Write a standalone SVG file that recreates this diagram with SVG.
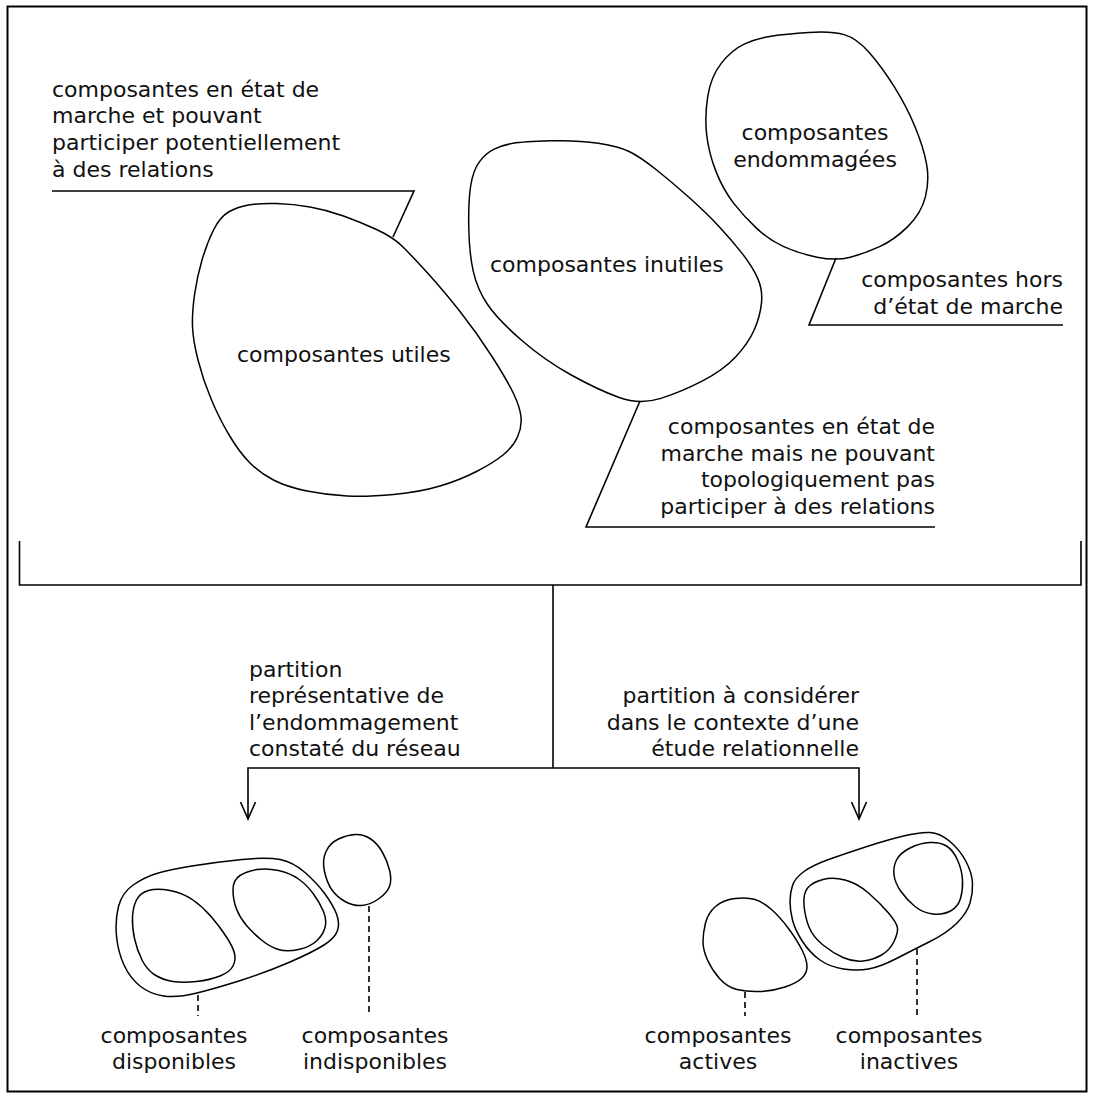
<svg xmlns="http://www.w3.org/2000/svg" width="1094" height="1099" viewBox="0 0 1094 1099">
<style>
text{font-family:"DejaVu Sans","Verdana","Liberation Sans",sans-serif;font-size:22px;fill:#111}
.blob{fill:none;stroke:#000;stroke-width:1.5;stroke-linejoin:round}
.ln{fill:none;stroke:#000;stroke-width:1.6}
.dash{fill:none;stroke:#000;stroke-width:1.6;stroke-dasharray:6 4}
.e{text-anchor:end}
.m{text-anchor:middle}
</style>
<rect x="0" y="0" width="1094" height="1099" fill="#fff"/>
<rect id="frame" x="7.5" y="6.5" width="1079" height="1085" fill="none" stroke="#000" stroke-width="2"/>

<g id="utiles">
<path class="blob" d="M213.5,230 Q220,217 228.5,212 Q237,207 248.5,205 Q260,203 276.5,203.5 Q293,204 310,207 Q327,210 343.5,216 Q360,222 376.5,229.5 Q393,237 403,247 Q413,257 428,273.5 Q443,290 460,311.5 Q477,333 492,356.5 Q507,380 513.5,393.5 Q520,407 521,417 Q522,427 517.5,437 Q513,447 503,455 Q493,463 476.5,471.5 Q460,480 440,486 Q420,492 393.5,494.5 Q367,497 347,496 Q327,495 307,491 Q287,487 273.5,480 Q260,473 250,463 Q240,453 230,436.5 Q220,420 211.5,400 Q203,380 198,360 Q193,340 192.5,326.5 Q192,313 194.5,295 Q197,277 202,260 Q207,243 213.5,230 Z"/>
<text x="237" y="362">composantes utiles</text>
</g>

<g id="inutiles">
<path class="blob" d="M494.15,149.15 Q502.5,145 512.9,143.35 Q523.3,141.7 550.4,140.85 Q577.5,140 598.35,143.35 Q619.2,146.7 629.6,151.7 Q640,156.7 656.65,170 Q673.3,183.3 690,198.3 Q706.7,213.3 719.2,226.65 Q731.7,240 742.1,253.35 Q752.5,266.7 757.7,278.35 Q762.9,290 761.45,303.35 Q760,316.7 754.15,330 Q748.3,343.3 735.8,356.65 Q723.3,370 702.5,380.85 Q681.7,391.7 660.85,398.35 Q640,405 619.15,397.5 Q598.3,390 571.25,375 Q544.2,360 521.25,340 Q498.3,320 487.9,305 Q477.5,290 473.35,271.65 Q469.2,253.3 468.75,226.65 Q468.3,200 470.8,185 Q473.3,170 479.55,161.65 Q485.8,153.3 494.15,149.15 Z"/>
<text x="490" y="272">composantes inutiles</text>
</g>

<g id="endommagees">
<path class="blob" d="M721.25,63.35 Q731.7,50 744.2,44.15 Q756.7,38.3 771.25,36.15 Q785.8,34 808.75,32.5 Q831.7,31 844.2,34.65 Q856.7,38.3 869.2,52.5 Q881.7,66.7 894.2,86.7 Q906.7,106.7 915,126.7 Q923.3,146.7 926.45,163.35 Q929.6,180 925.45,196.65 Q921.3,213.3 907.75,226.65 Q894.2,240 879.6,246.65 Q865,253.3 850.4,257.15 Q835.8,261 817.05,257.15 Q798.3,253.3 783.75,246.65 Q769.2,240 756.7,228.35 Q744.2,216.7 733.75,203.35 Q723.3,190 716.05,171.65 Q708.8,153.3 706.7,135 Q704.6,116.7 707.7,96.7 Q710.8,76.7 721.25,63.35 Z"/>
<text class="m" x="815" y="140">composantes</text>
<text class="m" x="815" y="166.7">endommagées</text>
</g>

<g id="label-marche-pouvant">
<text x="52" y="96.7">composantes en état de</text>
<text x="52" y="123.4">marche et pouvant</text>
<text x="52" y="150.1">participer potentiellement</text>
<text x="52" y="176.8">à des relations</text>
</g>

<g id="label-hors-marche">
<text class="e" x="1063" y="287">composantes hors</text>
<text class="e" x="1063" y="313.5">d’état de marche</text>
</g>

<g id="label-ne-pouvant">
<text class="e" x="935" y="434">composantes en état de</text>
<text class="e" x="935" y="460.7">marche mais ne pouvant</text>
<text class="e" x="935" y="487.4">topologiquement pas</text>
<text class="e" x="935" y="514.1">participer à des relations</text>
</g>

<g id="label-partition-gauche">
<text x="249" y="676.5">partition</text>
<text x="249" y="703">représentative de</text>
<text x="249" y="729.5">l’endommagement</text>
<text x="249" y="756">constaté du réseau</text>
</g>

<g id="label-partition-droite">
<text class="e" x="859" y="703">partition à considérer</text>
<text class="e" x="859" y="729.5">dans le contexte d’une</text>
<text class="e" x="859" y="756">étude relationnelle</text>
</g>

<g id="disponibles">
<path class="blob" d="M116.5,936 Q115,920 118.5,906.5 Q122,893 132.5,885.5 Q143,878 155,874 Q167,870 192,866 Q217,862 242,859.5 Q267,857 280,859.5 Q293,862 305,872.5 Q317,883 325,894 Q333,905 336.5,914 Q340,923 337.5,930.5 Q335,938 324,945 Q313,952 290,962 Q267,972 242,980 Q217,988 197,993 Q177,998 163.5,996 Q150,994 140,986 Q130,978 124,965 Q118,952 116.5,936 Z"/>
<path class="blob" d="M136.5,900 Q140,893 148.5,890.5 Q157,888 170,890.5 Q183,893 193,900 Q203,907 211.5,917 Q220,927 226.5,937 Q233,947 234.5,953.5 Q236,960 233,966 Q230,972 220,976 Q210,980 196.5,981.5 Q183,983 173,981.5 Q163,980 155,975 Q147,970 142,960 Q137,950 134.5,938.5 Q132,927 132.5,917 Q133,907 136.5,900 Z"/>
<path class="blob" d="M233,890 Q233,880 240,875.5 Q247,871 257,869.5 Q267,868 278.5,870.5 Q290,873 298.5,879 Q307,885 313.5,894 Q320,903 323.5,911.5 Q327,920 325,927.5 Q323,935 316.5,941 Q310,947 298.5,949.5 Q287,952 278.5,949.5 Q270,947 261.5,940 Q253,933 246.5,925.5 Q240,918 236.5,909 Q233,900 233,890 Z"/>
<text class="m" x="174" y="1043">composantes</text>
<text class="m" x="174" y="1069">disponibles</text>
</g>

<g id="indisponibles">
<path class="blob" d="M324.5,871.5 Q322,860 326,851.5 Q330,843 338.5,839 Q347,835 355,834.5 Q363,834 370,838.5 Q377,843 382,851.5 Q387,860 389.5,870 Q392,880 389.5,886.5 Q387,893 378.5,899 Q370,905 361.5,905.5 Q353,906 345,901.5 Q337,897 332,890 Q327,883 324.5,871.5 Z"/>
<text class="m" x="375" y="1043">composantes</text>
<text class="m" x="375" y="1069">indisponibles</text>
</g>

<g id="actives">
<path class="blob" d="M703,941.5 Q703,933 705.5,923 Q708,913 715.5,906.5 Q723,900 735,898.5 Q747,897 755,899.5 Q763,902 771.5,909.5 Q780,917 788.5,928.5 Q797,940 802,950 Q807,960 807,966.5 Q807,973 802,978 Q797,983 785,987 Q773,991 760,991.5 Q747,992 737,989.5 Q727,987 719.5,978.5 Q712,970 707.5,960 Q703,950 703,941.5 Z"/>
<text class="m" x="718" y="1043">composantes</text>
<text class="m" x="718" y="1069">actives</text>
</g>

<g id="inactives">
<path class="blob" d="M790,901.5 Q790,893 792.5,885.5 Q795,878 804,871.5 Q813,865 830,859 Q847,853 867,846.5 Q887,840 903.5,836 Q920,832 930,832.5 Q940,833 950,841.5 Q960,850 966,861.5 Q972,873 972.5,883 Q973,893 970,903 Q967,913 957,923 Q947,933 930,941.5 Q913,950 896.5,958.5 Q880,967 868.5,969 Q857,971 843.5,969 Q830,967 820,960 Q810,953 802.5,941.5 Q795,930 792.5,920 Q790,910 790,901.5 Z"/>
<path class="blob" d="M804,905 Q803,893 808,887.5 Q813,882 823,879.5 Q833,877 845,880 Q857,883 868.5,893 Q880,903 888.5,913 Q897,923 897.5,928 Q898,933 894,941.5 Q890,950 881.5,955 Q873,960 863,961 Q853,962 843,957.5 Q833,953 823,945 Q813,937 809,927 Q805,917 804,905 Z"/>
<path class="blob" d="M894,875 Q893,867 896.5,860 Q900,853 910,848 Q920,843 930,842.5 Q940,842 946.5,846 Q953,850 957.5,860 Q962,870 962.5,880 Q963,890 960.5,898.5 Q958,907 950.5,911 Q943,915 933,914 Q923,913 915,906.5 Q907,900 901,891.5 Q895,883 894,875 Z"/>
<text class="m" x="909" y="1043">composantes</text>
<text class="m" x="909" y="1069">inactives</text>
</g>

<g id="connectors">
<path class="ln" d="M52,191 H414 L393,237"/>
<path class="ln" d="M836,258 L809,325 H1063"/>
<path class="ln" d="M640,401 L586,527 H935"/>
<path class="ln" d="M19.5,541 V585 H1081 V541"/>
<path class="ln" d="M553,585 V768"/>
<path class="ln" d="M248,819 V768 H859 V819"/>
<path class="ln" d="M240.5,802 L248,819 L255.5,802"/>
<path class="ln" d="M851.5,802 L859,819 L866.5,802"/>
<path class="dash" d="M198,995 V1016"/>
<path class="dash" d="M369,906 V1016"/>
<path class="dash" d="M745,992 V1016"/>
<path class="dash" d="M917,949 V1016"/>
</g>
</svg>
